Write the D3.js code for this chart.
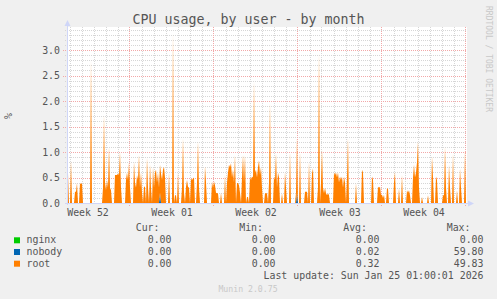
<!DOCTYPE html>
<html><head><meta charset="utf-8">
<script src="https://cdn.jsdelivr.net/npm/d3@7"></script>
<style>html,body{margin:0;padding:0;background:#F0F0F0;}svg{display:block;}</style>
</head><body><svg id="c" width="497" height="299"></svg>
<script>
const titleText = "CPU usage, by user - by month";
const seriesNames = ["nginx", "nobody", "root"];
const seriesColors = ["#00CC00", "#0066B3", "#FF8000"];
const curValues = ["0.00", "0.00", "0.00"];
const minValues = ["0.00", "0.00", "0.00"];
const avgValues = ["0.00", "0.02", "0.32"];
const maxValues = ["0.00", "59.80", "49.83"];
const yTickValues = [0, 0.5, 1.0, 1.5, 2.0, 2.5, 3.0];
const weekLabels = ["Week 52", "Week 01", "Week 02", "Week 03", "Week 04"];
const lastUpdate = "Last update: Sun Jan 25 01:00:01 2026";
const startTime = Date.UTC(2025, 11, 23, 19, 0);
const endTime = Date.UTC(2026, 0, 26, 3, 0);
const stepMs = 2 * 3600 * 1000;

const rootValues = [
0.58,0.58,0,0,0.84,0,0,0,0.22,0.22,
0.39,0,0,0.39,0.37,0.39,0,0,0,0,
0,0,0,0,2.8,0,0,0,0,0,
0,0,0,0,0,0,0.3,1.72,0.4,0.25,
0.45,0.3,1.1,0.3,0.25,0,0,0,0.55,0.55,
0.55,0.58,0.55,1.0,0.3,0,0,0,0,0.45,
0.6,0.45,0.8,0.3,0,0,0,0.81,0.4,0.3,
0.55,0.45,0.94,0.3,0.6,0.2,0,0.32,0.32,0,
0.88,0.3,0,0.75,0.3,0,0.7,0.3,0.6,0.65,
0.4,0.6,0.3,0.55,0.58,0.45,0.65,0.71,0.5,0,
0,0,0.6,0,0,0,3.33,0,0.15,0.15,
0,0.6,0,0,0,0.3,1.27,0.2,0,0.32,
0.45,0.32,0.3,0,0.48,0.45,0.48,0.5,0,0,
0.4,1.2,0.3,0,0,0,0,0,0.72,0.4,
0,0,0,0,0,0.42,0.3,0.42,0.35,0.2,
0.19,0.19,0,0,0.2,0,0,0,0.55,0,
0.4,0.6,0.75,0.7,0.78,0.5,0.65,0.4,0.94,0,
0.39,0.39,0.35,0.2,0,0.5,0.94,0.4,0.94,0,
0.12,0.12,0,0.52,0.45,0.52,0.5,2.38,0.6,0.65,
0.5,0.7,0.84,0.55,0.7,0.3,0,0,0.19,0.19,
0.19,0,0.4,1.96,0,0,0,0.52,0.45,0.97,
0.3,0.6,0.5,0,0,0.19,0,0,0.61,0.3,
0,0,0,1.0,0,0,0,0,0,0.2,
1.1,0,0,1.0,0,0,0,0,0.22,0.22,
0.22,0,0.81,0,0,0.58,0.68,0,0,0,
0,0.3,2.94,0,0.4,1.05,0.3,0.19,0.3,0.19,
0.15,0.19,0.15,0,0,0,0,0.6,0.55,0.6,
0.5,0.6,0.4,0.52,0.45,0.52,0.3,0.52,0.4,0,
0.5,1.27,0,0,0,0,0,0,0,0.39,
0,0,0,0,0,0.65,0.6,0,0,0,
0,0,0,0,0,0.52,0.46,0,0,0,
0,0.32,0.3,0.32,0.16,0.16,0.1,0.16,0,0,
0.29,0.28,0,0,0,0,0,0.4,0.61,0,
0,0,0.29,0,0,0.55,0,0,0,0,
0.25,0.2,0.25,0.15,0,0,0.5,0.75,0.5,0.6,
0.8,1.2,0.3,0,0,0.12,0,0,0,0,
0,0.15,0,0,0,0.91,0.5,0,0,0.52,
0.45,0,0,0,0,0,0.15,0.15,1.1,0.3,
0,0,0.75,0.3,0,0,0.97,0,0,0,
0.25,0,0,0.68,0.3,0,0,0,1.04,0
];

const nobodyValues = [
0,0,0,0,0,0,0,0,0,0,0,0,0,0,0,0,0,0,0,0,0,0,0,0,0,0,0,0,0,0,0,0,0,0,0,0,0,0,0,0,
0,0,0,0,0,0,0,0,0,0,0,0,0,0,0,0,0,0,0,0,0,0,0,0,0,0,0,0,0,0,0,0,0,0,0,0,0,0,0,0,
0,0,0,0,0,0,0,0,0,0,0,0,0,0.2,0,0,0,0,0,0,0,0,0,0,0,0,0,0,0,0,0,0,0,0,0,0,0,0,0,0,
0,0,0,0,0,0,0,0,0,0,0,0,0,0,0,0,0,0,0,0,0,0,0,0,0,0,0,0,0,0,0,0,0,0,0,0,0,0,0,0,
0,0,0,0,0,0,0,0,0,0,0,0,0,0,0,0,0,0,0,0,0,0,0,0,0,0,0,0,0,0,0,0,0,0,0,0,0,0,0,0,
0,0,0,0,0,0,0,0,0,0,0,0,0,0,0,0,0,0,0,0,0,0,0,0,0,0,0,0,0,0,0.2,0,0,0,0,0,0,0,0,0,
0,0,0,0,0,0,0,0,0,0,0,0,0,0,0,0,0,0,0,0,0,0,0,0,0,0,0,0,0,0,0,0,0,0,0,0,0,0,0,0,
0,0,0,0,0,0,0,0,0,0,0,0,0,0,0,0,0,0,0,0,0,0,0,0,0,0,0,0,0,0,0,0,0,0,0,0,0,0,0,0,
0,0,0,0,0,0,0,0,0,0,0,0,0,0,0,0,0,0,0,0,0,0,0,0,0,0,0,0,0,0,0,0,0,0,0,0,0,0,0,0,
0,0,0,0,0,0,0,0,0,0,0,0,0,0,0,0,0,0,0,0,0,0,0,0,0,0,0,0,0,0,0,0,0,0,0,0,0,0,0,0
];

const nginxValues = [
0,0,0,0,0,0,0,0,0,0,0,0,0,0,0,0,0,0,0,0,0,0,0,0,0,0,0,0,0,0,0,0,0,0,0,0,0,0,0,0,
0,0,0,0,0,0,0,0,0,0,0,0,0,0,0,0,0,0,0,0,0,0,0,0,0,0,0,0,0,0,0,0,0,0,0,0,0,0,0,0,
0,0,0,0,0,0,0,0,0,0,0,0,0,0,0,0,0,0,0,0,0,0,0,0,0,0,0,0,0,0,0,0,0,0,0,0,0,0,0,0,
0,0,0,0,0,0,0,0,0,0,0,0,0,0,0,0,0,0,0,0,0,0,0,0,0,0,0,0,0,0,0,0,0,0,0,0,0,0,0,0,
0,0,0,0,0,0,0,0,0,0,0,0,0,0,0,0,0,0,0,0,0,0,0,0,0,0,0,0,0,0,0,0,0,0,0,0,0,0,0,0,
0,0,0,0,0,0,0,0,0,0,0,0,0,0,0,0,0,0,0,0,0,0,0,0,0,0,0,0,0,0,0,0,0,0,0,0,0,0,0,0,
0,0,0,0,0,0,0,0,0,0,0,0,0,0,0,0,0,0,0,0,0,0,0,0,0,0,0,0,0,0,0,0,0,0,0,0,0,0,0,0,
0,0,0,0,0,0,0,0,0,0,0,0,0,0,0,0,0,0,0,0,0,0,0,0,0,0,0,0,0,0,0,0,0,0,0,0,0,0,0,0,
0,0,0,0,0,0,0,0,0,0,0,0,0,0,0,0,0,0,0,0,0,0,0,0,0,0,0,0,0,0,0,0,0,0,0,0,0,0,0,0,
0,0,0,0,0,0,0,0,0,0,0,0,0,0,0,0,0,0,0,0,0,0,0,0,0,0,0,0,0,0,0,0,0,0,0,0,0,0,0,0
];

const FONT = "'DejaVu Sans Mono', monospace";
const svg = d3.select("#c");
const P = {left: 67, right: 467, top: 27, bottom: 203};

svg.append("rect").attr("width", 497).attr("height", 299).attr("fill", "#F0F0F0");
svg.append("rect").attr("x", P.left).attr("y", P.top)
  .attr("width", P.right - P.left).attr("height", P.bottom - P.top).attr("fill", "#FFFFFF");

const t0 = new Date(startTime), t1 = new Date(endTime);
const x = d3.scaleUtc().domain([t0, t1]).range([P.left, P.right]);
const y = d3.scaleLinear().domain([0, 176 / 51]).range([P.bottom, P.top]);

const table = rootValues.map((v, i) => ({
  t: new Date(startTime + i * stepMs),
  nginx: nginxValues[i], nobody: nobodyValues[i], root: v
}));

// grid
const MINOR = "#D6D6D6", MAJOR = "#F2A8A8";
const grid = svg.append("g");
const minorH = d3.range(1, 35).filter(k => k % 5 !== 0).map(k => k / 10);
grid.selectAll(".mh").data(minorH).join("line")
  .attr("x1", P.left - 2).attr("x2", P.right)
  .attr("y1", d => Math.round(y(d)) + 0.5).attr("y2", d => Math.round(y(d)) + 0.5)
  .attr("stroke", MINOR).attr("stroke-dasharray", "1,1").attr("stroke-width", 1);
const days = d3.utcDay.range(t0, t1).filter(d => d.getUTCDay() !== 1);
grid.selectAll(".mv").data(days).join("line")
  .attr("x1", d => Math.round(x(d)) + 0.5).attr("x2", d => Math.round(x(d)) + 0.5)
  .attr("y1", P.top).attr("y2", P.bottom + 2)
  .attr("stroke", MINOR).attr("stroke-dasharray", "1,1");
const majorH = yTickValues.filter(v => v > 0);
grid.selectAll(".Mh").data(majorH).join("line")
  .attr("x1", P.left - 4).attr("x2", P.right)
  .attr("y1", d => Math.round(y(d)) + 0.5).attr("y2", d => Math.round(y(d)) + 0.5)
  .attr("stroke", MAJOR).attr("stroke-dasharray", "1,1");
const mondays = d3.utcMonday.range(t0, t1);
grid.selectAll(".Mv").data(mondays).join("line")
  .attr("x1", d => Math.round(x(d)) - 0.5).attr("x2", d => Math.round(x(d)) - 0.5)
  .attr("y1", P.top).attr("y2", P.bottom + 3)
  .attr("stroke", MAJOR).attr("stroke-dasharray", "1,1");

// stacked areas
const stack = d3.stack().keys(seriesNames);
const layers = stack(table);
const area = d3.area().x(d => x(d.data.t)).y0(d => y(d[0])).y1(d => y(d[1]));
svg.append("g").selectAll("path").data(layers).join("path")
  .attr("d", area).attr("fill", (d, i) => seriesColors[i]);

// axes lines + arrows
const AX = "#CFD6F8";
svg.append("line").attr("x1", P.left - 2).attr("x2", P.right + 2)
  .attr("y1", P.bottom + 0.5).attr("y2", P.bottom + 0.5).attr("stroke", AX);
svg.append("line").attr("x1", P.left + 0.5).attr("x2", P.left + 0.5)
  .attr("y1", P.bottom + 2).attr("y2", P.top - 3).attr("stroke", AX);
svg.append("path").attr("d", `M${P.right + 1},${P.bottom - 2.5}L${P.right + 7},${P.bottom + 0.5}L${P.right + 1},${P.bottom + 3.5}Z`).attr("fill", AX);
svg.append("path").attr("d", `M${P.left - 2.5},${P.top - 1}L${P.left + 0.5},${P.top - 7}L${P.left + 3.5},${P.top - 1}Z`).attr("fill", AX);

// y tick labels
svg.append("g").selectAll("text").data(yTickValues).join("text")
  .attr("x", 60).attr("y", d => y(d) + 3.6).attr("text-anchor", "end")
  .attr("font-family", FONT).attr("font-size", "9.9px").attr("fill", "#555")
  .text(d => d3.format(".1f")(d));

// x axis labels
const labelTimes = weekLabels.map((l, i) => new Date(+d3.utcMonday.floor(t0) + i * 7 * 86400000 + 3.5 * 86400000));
const xAxis = d3.axisBottom(x).tickValues(labelTimes).tickSize(0).tickPadding(0)
  .tickFormat((d, i) => weekLabels[i]);
const gx = svg.append("g").attr("transform", `translate(0,${P.bottom})`).call(xAxis);
gx.select(".domain").remove();
gx.selectAll("text").attr("font-family", FONT).attr("font-size", "9.9px").attr("fill", "#555")
  .attr("dy", null).attr("y", 13);

// title
svg.append("text").attr("x", 248.5).attr("y", 24).attr("text-anchor", "middle")
  .attr("font-family", FONT).attr("font-size", "13.3px").attr("fill", "#555").text(titleText);

// y label
svg.append("text").attr("transform", "translate(12,116) rotate(-90)").attr("text-anchor", "middle")
  .attr("font-family", FONT).attr("font-size", "9.9px").attr("fill", "#555").text("%");

// watermark
svg.append("text").attr("transform", "translate(486,6) rotate(90)").attr("text-anchor", "start")
  .attr("font-family", FONT).attr("font-size", "8px").attr("fill", "#C8C8C8").text("RRDTOOL / TOBI OETIKER");

// legend
const lg = svg.append("g").attr("font-family", FONT).attr("font-size", "9.9px").attr("fill", "#555");
const headers = ["Cur:", "Min:", "Avg:", "Max:"];
const headerX = [159.5, 263, 367, 470.5];
const valueX = [171.5, 275.5, 379.5, 483.5];
lg.selectAll(".h").data(headers).join("text")
  .attr("x", (d, i) => headerX[i]).attr("y", 231).attr("text-anchor", "end").text(d => d);
const rowY = [243.3, 255, 266.7];
seriesNames.forEach((name, i) => {
  lg.append("rect").attr("x", 14).attr("y", rowY[i] - 6).attr("width", 6).attr("height", 6).attr("fill", seriesColors[i]);
  lg.append("text").attr("x", 26.5).attr("y", rowY[i]).text(name);
  [curValues, minValues, avgValues, maxValues].forEach((arr, j) => {
    lg.append("text").attr("x", valueX[j]).attr("y", rowY[i]).attr("text-anchor", "end").text(arr[i]);
  });
});
lg.append("text").attr("x", 483.5).attr("y", 278.5).attr("text-anchor", "end").text(lastUpdate);
svg.append("text").attr("x", 248).attr("y", 291.5).attr("text-anchor", "middle")
  .attr("font-family", FONT).attr("font-size", "8.2px").attr("fill", "#C8C8C8").text("Munin 2.0.75");
</script>
</body></html>
